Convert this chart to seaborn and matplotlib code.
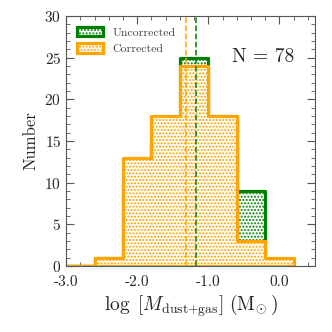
import numpy as np
import pandas as pd
import matplotlib
matplotlib.use("Agg")
import matplotlib.pyplot as plt
import seaborn as sns

# bin edges and counts
edges = [-3.0, -2.6, -2.2, -1.8, -1.4, -1.0, -0.6, -0.2, 0.2]
n_uncorr = [0, 1, 10, 15, 25, 18, 9, 0]
n_corr = [0, 1, 13, 18, 24, 18, 3, 1]
med_uncorr = -1.17
med_corr = -1.32
labels = ["Uncorrected", "Corrected"]
colors = ["green", "orange"]

centers = [(a + b) / 2 for a, b in zip(edges[:-1], edges[1:])]
df = pd.DataFrame({
    "x": centers * 2,
    "n": n_uncorr + n_corr,
    "kind": [labels[0]] * len(centers) + [labels[1]] * len(centers),
})

sns.set_style("ticks")
plt.rcParams["font.family"] = ["cmr10", "DejaVu Serif"]
plt.rcParams["mathtext.fontset"] = "cm"
plt.rcParams["axes.formatter.use_mathtext"] = True
plt.rcParams["hatch.linewidth"] = 1.0

fig = plt.figure(figsize=(3.32, 3.32), dpi=100)
ax = fig.add_axes([0.199, 0.199, 0.75, 0.753])

for lab, col in zip(labels, colors):
    sub = df[df["kind"] == lab]
    sns.histplot(data=sub, x="x", weights="n", bins=edges, element="step",
                 fill=True, facecolor="white", edgecolor=col, hatch=".....",
                 linewidth=2.3, alpha=1, label=lab, ax=ax)

ax.axvline(med_corr, color="orange", ls="--", lw=1.1)
ax.axvline(med_uncorr, color="green", ls="--", lw=1.1)

ax.set_xlim(-3.0, 0.5)
ax.set_ylim(0, 30)
ax.set_xticks([-3.0, -2.0, -1.0, 0.0])
ax.set_xticklabels(["-3.0", "-2.0", "-1.0", "0.0"])
ax.set_xticks(np.arange(-3.0, 0.51, 0.2), minor=True)
ax.set_yticks(range(0, 31, 5))
ax.set_yticks(range(0, 31, 1), minor=True)
ax.tick_params(which="both", direction="in", top=True, right=True,
               labelsize=11, color="#555555")
ax.tick_params(which="major", length=6)
ax.tick_params(which="minor", length=3)
ax.tick_params(axis="x", pad=7)
for s in ax.spines.values():
    s.set_color("#555555")

ax.set_xlabel(r"$\log\ [M_{\rm dust{+}gas}]\ ({\rm M}_{\!\odot})$", fontsize=14,
              labelpad=2)
ax.set_ylabel("Number", fontsize=12)
ax.text(0.79, 0.836, "N = 78", transform=ax.transAxes, fontsize=14,
        ha="center", va="center")

leg = ax.legend(loc="upper left", fontsize=8.5, frameon=False,
                handlelength=2.2, handleheight=0.9)
for t in leg.get_texts():
    t.set_color("#444444")

fig.savefig("out.png", dpi=100)
